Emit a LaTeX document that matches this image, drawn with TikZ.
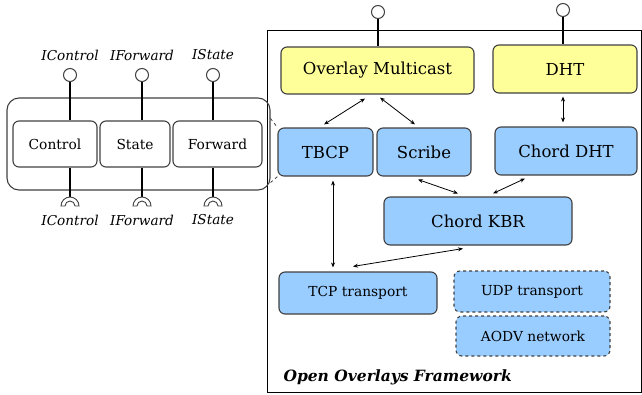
\documentclass[tikz,border=0pt]{standalone}
\usepackage{fontspec}
\setmainfont{DejaVu Serif}
\usetikzlibrary{arrows.meta}
\definecolor{boxyellow}{HTML}{FFFF99}
\definecolor{boxblue}{HTML}{99CCFF}
\definecolor{boxline}{HTML}{404040}
\begin{document}
\begin{tikzpicture}[x=1pt, y=-1pt,
    comp/.style={draw=boxline, line width=1.1pt, rounded corners=6pt, inner sep=0pt},
    bigbox/.style={comp, font=\fontsize{16.5}{18}\selectfont},
    smallbox/.style={comp, font=\fontsize{13.8}{16}\selectfont},
    iface/.style={font=\fontsize{13.6}{16}\selectfont\itshape},
    stick/.style={line width=2.8pt},
    ball/.style={circle, draw=boxline, line width=1pt, fill=white, minimum size=13pt, inner sep=0pt},
    link/.style={{Stealth[length=5pt,width=4pt]}-{Stealth[length=5pt,width=4pt]}, line width=0.8pt}]
\useasboundingbox (0,0) rectangle (642,394);

% Framework frame
\draw[line width=0.9pt] (267,30) rectangle (641,392);
\node[anchor=west, font=\fontsize{15.5}{18}\selectfont\bfseries\itshape] (fwlabel) at (280,377) {Open Overlays Framework};

% Upper layer
\node[bigbox, fill=boxyellow, minimum width=193pt, minimum height=47pt] (om) at (377.5,70.5) {Overlay Multicast};
\node[bigbox, fill=boxyellow, minimum width=144pt, minimum height=48pt] (dht) at (565,69) {DHT};

% Middle layer
\node[bigbox, fill=boxblue, minimum width=95pt, minimum height=48pt] (tbcp) at (325.5,152) {TBCP};
\node[bigbox, fill=boxblue, minimum width=94pt, minimum height=48pt] (scribe) at (424,152) {Scribe};
\node[bigbox, fill=boxblue, minimum width=142pt, minimum height=48pt] (cdht) at (566,151) {Chord DHT};
\node[bigbox, fill=boxblue, minimum width=188pt, minimum height=48pt] (kbr) at (478,221) {Chord KBR};

% Transports
\node[smallbox, fill=boxblue, minimum width=158pt, minimum height=42pt] (tcp) at (358,293) {TCP transport};
\node[smallbox, fill=boxblue, dashed, minimum width=156pt, minimum height=41pt] (udp) at (532,291.5) {UDP transport};
\node[smallbox, fill=boxblue, dashed, minimum width=154pt, minimum height=40pt] (aodv) at (533,336) {AODV network};

% Provided interfaces of the framework
\node[ball] (omball) at (378,12) {};
\node[ball] (dhtball) at (563,10) {};
\draw[stick] (omball) -- (omball |- om.north);
\draw[stick] (dhtball) -- (dhtball |- dht.north);

% Links
\draw[link] ([xshift=-12.5pt,yshift=-4pt]om.south) -- ([xshift=-1.5pt,yshift=3pt]tbcp.north);
\draw[link] ([xshift=2.5pt,yshift=-3pt]om.south) -- ([xshift=-9pt,yshift=3pt]scribe.north);
\draw[link] ([xshift=-2pt,yshift=-3pt]dht.south) -- ([xshift=-3pt,yshift=4pt]cdht.north);
\draw[link] ([xshift=-6pt,yshift=-3pt]scribe.south) -- ([xshift=-20pt,yshift=3pt]kbr.north);
\draw[link] ([xshift=-41pt,yshift=-3pt]cdht.south) -- ([xshift=15pt,yshift=3pt]kbr.north);
\draw[link] ([xshift=7.5pt,yshift=-4pt]tbcp.south) -- ([xshift=-25pt,yshift=4pt]tcp.north);
\draw[link] ([xshift=-15pt,yshift=-3pt]kbr.south) -- ([xshift=-5pt,yshift=5pt]tcp.north);

% Component with its parts
\node[comp, rounded corners=12pt, minimum width=263pt, minimum height=92pt] (outer) at (138.5,144) {};
\node[smallbox, minimum width=84pt, minimum height=46pt] (ctrl) at (55,144) {Control};
\node[smallbox, minimum width=70pt, minimum height=46pt] (state) at (135,144) {State};
\node[smallbox, minimum width=89pt, minimum height=46pt] (fwd) at (217.5,144) {Forward};
\draw[boxline, dashed, line width=0.8pt] ([yshift=-21pt]outer.north east) -- (tbcp.north west);
\draw[boxline, dashed, line width=0.8pt] ([yshift=8pt]outer.south east) -- (tbcp.south west);

% Provided interfaces
\node[ball] (pctrl) at (70,75) {};
\node[ball] (pfwd) at (142,75) {};
\node[ball] (pstate) at (213,75) {};
\node[iface] (lpctrl) at (70,55) {IControl};
\node[iface] (lpfwd) at (142,55) {IForward};
\node[iface] (lpstate) at (213,55) {IState};
\draw[stick] (pctrl) -- (pctrl |- ctrl.north);
\draw[stick] (pfwd) -- (pfwd |- state.north);
\draw[stick] (pstate) -- (pstate |- fwd.north);

% Required interfaces (sockets)
\coordinate (rctrl) at (70,197);
\coordinate (rfwd) at (142,197);
\coordinate (rstate) at (213,197);
\draw[stick] (rctrl |- ctrl.south) -- (rctrl);
\draw[stick] (rfwd |- state.south) -- (rfwd);
\draw[stick] (rstate |- fwd.south) -- (rstate);
\foreach \s in {rctrl,rfwd,rstate}
    \draw[boxline, fill=white, line width=0.9pt] ([xshift=-9pt,yshift=-9pt]\s) arc[start angle=180, end angle=0, radius=9pt]
        -- ++(-4pt,0) arc[start angle=0, end angle=180, radius=5pt] -- cycle;
\node[iface] (lrctrl) at (70,220) {IControl};
\node[iface] (lrfwd) at (142,220) {IForward};
\node[iface] (lrstate) at (213,220) {IState};
\end{tikzpicture}
\end{document}
